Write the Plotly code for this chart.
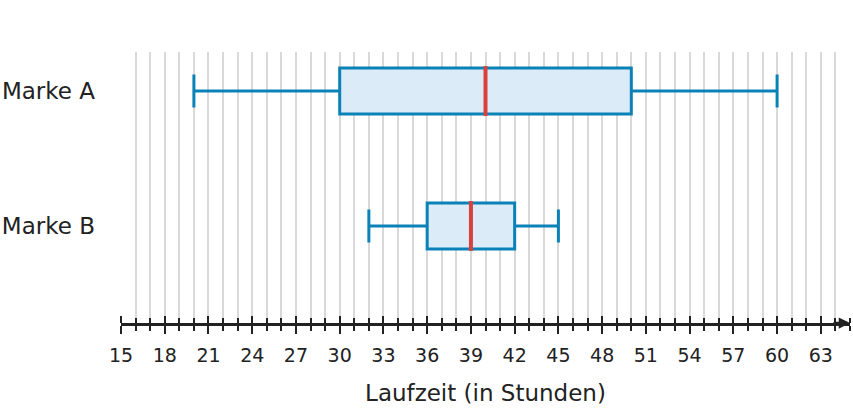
import plotly.graph_objects as go

# Data
categories = ["Marke A", "Marke B"]
y_pos = [1, 0]
mins = [20, 32]
q1s = [30, 36]
medians = [40, 39]
q3s = [50, 42]
maxs = [60, 45]
tick_vals = list(range(15, 64, 3))
tick_labels = [str(v) for v in tick_vals]

BLUE = "#0a82b8"
FILL = "#dbecf8"
RED = "#d9423c"
DARK = "#222222"
GRID = "#d9d9d9"

fig = go.Figure()
for i, cat in enumerate(categories):
    fig.add_trace(go.Box(
        y=[y_pos[i]], orientation="h",
        q1=[q1s[i]], median=[medians[i]], q3=[q3s[i]],
        lowerfence=[mins[i]], upperfence=[maxs[i]],
        width=0.34, whiskerwidth=0.72,
        fillcolor=FILL, line=dict(color=BLUE, width=3),
        boxpoints=False, hoverinfo="skip", name=cat, showlegend=False,
    ))
    fig.add_trace(go.Scatter(
        x=[medians[i], medians[i]], y=[y_pos[i] - 0.185, y_pos[i] + 0.185],
        mode="lines", line=dict(color=RED, width=4),
        hoverinfo="skip", showlegend=False,
    ))

fig.update_layout(
    width=853, height=412,
    margin=dict(l=121, r=3, t=52, b=89),
    paper_bgcolor="white", plot_bgcolor="white",
    font=dict(family="DejaVu Sans", color=DARK),
    xaxis=dict(
        range=[15, 65], showgrid=True, gridcolor=GRID, gridwidth=1.6,
        tickvals=tick_vals, ticktext=tick_labels,
        ticks="outside", ticklen=8, tickwidth=2, tickcolor=DARK,
        tickfont=dict(size=19, color=DARK), ticklabelstandoff=5,
        minor=dict(dtick=1, tick0=15, showgrid=True, gridcolor=GRID, gridwidth=1.6,
                   ticks="outside", ticklen=5, tickwidth=2, tickcolor=DARK),
        showline=True, linecolor=DARK, linewidth=2.5,
        zeroline=False, automargin=False,
        title=dict(text="Laufzeit (in Stunden)", font=dict(size=23, color=DARK), standoff=21),
    ),
    xaxis2=dict(
        overlaying="x", matches="x", side="top", anchor="free", position=0,
        tickvals=tick_vals, showticklabels=False, showgrid=False,
        ticks="outside", ticklen=7, tickwidth=2, tickcolor=DARK,
        minor=dict(dtick=1, tick0=15, ticks="outside", ticklen=5, tickwidth=2, tickcolor=DARK, showgrid=False),
        showline=False, zeroline=False, automargin=False,
    ),
    yaxis=dict(
        range=[-0.719, 1.289], tickvals=y_pos, ticktext=categories,
        showgrid=False, zeroline=False, showline=False, ticks="",
        tickfont=dict(size=23, color=DARK), ticklabelstandoff=25,
        automargin=False,
    ),
)
# dummy trace so xaxis2 is drawn
fig.add_trace(go.Scatter(x=[15], y=[0], xaxis="x2", mode="markers",
                         marker=dict(opacity=0), hoverinfo="skip", showlegend=False))
fig.add_annotation(x=65, y=0, xref="x", yref="paper", ax=-18, ay=0,
                   showarrow=True, arrowhead=2, arrowsize=0.9, arrowwidth=2.5,
                   arrowcolor=DARK, text="")
fig.write_html("out.html", config={"displayModeBar": False},
               post_script="document.body.style.margin='0';")
